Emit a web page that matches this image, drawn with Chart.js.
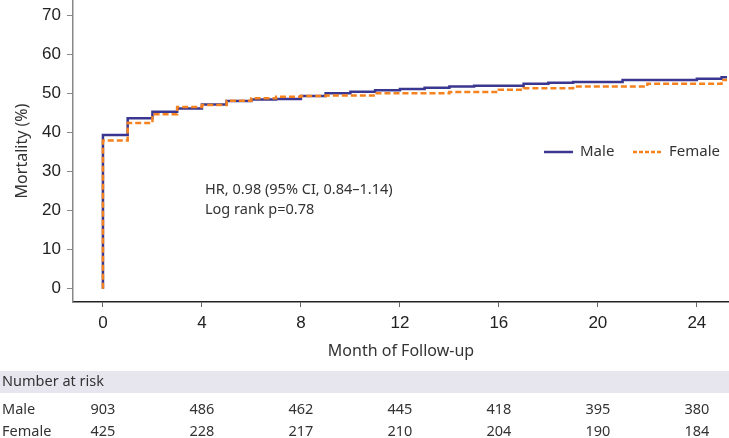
<!DOCTYPE html>
<html>
<head>
<meta charset="utf-8">
<script src="https://cdn.jsdelivr.net/npm/chart.js@4.4.0/dist/chart.umd.min.js"></script>
<style>
  html, body { margin: 0; padding: 0; background: #fff; }
  #wrap { width: 729px; height: 438px; position: relative; }
</style>
</head>
<body>
<div id="wrap"><canvas id="km"></canvas></div>
<script>
// step times (months); first point is the drop from 0, last is where the curves stop
const months = [0, 0, 1, 2, 3, 4, 5, 6, 7, 8, 9, 10, 11, 12, 13, 14, 15, 16, 17, 18, 19, 20, 21, 22, 23, 24, 25, 25.22];
const male = [0, 39.3, 43.6, 45.3, 46.1, 47.1, 48.0, 48.4, 48.5, 49.3, 50.0, 50.4, 50.8, 51.1, 51.4, 51.7, 51.9, 51.9, 52.4, 52.7, 52.9, 52.9, 53.4, 53.4, 53.4, 53.7, 54.1, 54.1];
const female = [0, 37.9, 42.4, 44.6, 46.5, 47.0, 48.1, 48.7, 49.1, 49.3, 49.4, 49.4, 50.0, 50.0, 50.0, 50.3, 50.3, 50.9, 51.3, 51.3, 51.7, 51.7, 51.7, 52.4, 52.4, 52.4, 53.4, 53.4];

const xTicks = [0, 4, 8, 12, 16, 20, 24];
const yTicks = [0, 10, 20, 30, 40, 50, 60, 70];

const riskMonths = [0, 4, 8, 12, 16, 20, 24];
const maleRisk = [903, 486, 462, 445, 418, 395, 380];
const femaleRisk = [425, 228, 217, 210, 204, 190, 184];

const MALE_COLOR = "#3b368f";
const FEMALE_COLOR = "#f5821f";
const TICK_FONT = { family: '"Liberation Sans", Arial, sans-serif', size: 17 };

const toPoints = (ys) => months.map((m, i) => ({ x: m, y: ys[i] }));

// titles, legend, HR text and the number-at-risk table
const extras = {
  id: "extras",
  afterDraw(chart) {
    const ctx = chart.ctx;
    const xs = chart.scales.x;
    ctx.save();

    // y title
    ctx.save();
    ctx.fillStyle = "#333";
    ctx.font = '16px "Noto Sans"';
    ctx.textAlign = "center";
    ctx.textBaseline = "middle";
    ctx.translate(22, 151);
    ctx.rotate(-Math.PI / 2);
    ctx.fillText("Mortality (%)", 0, 0);
    ctx.restore();

    // legend
    ctx.lineWidth = 2.5;
    ctx.strokeStyle = MALE_COLOR;
    ctx.beginPath();
    ctx.moveTo(544, 152);
    ctx.lineTo(573, 152);
    ctx.stroke();
    ctx.strokeStyle = FEMALE_COLOR;
    ctx.setLineDash([4, 2]);
    ctx.beginPath();
    ctx.moveTo(633, 152);
    ctx.lineTo(663, 152);
    ctx.stroke();
    ctx.setLineDash([]);

    ctx.fillStyle = "#333";
    ctx.font = '15px "Noto Sans"';
    ctx.textAlign = "left";
    ctx.textBaseline = "middle";
    ctx.fillText("Male", 580, 152);
    ctx.fillText("Female", 669, 152);

    // HR annotation
    ctx.font = '14.5px "Noto Sans"';
    ctx.fillText("HR, 0.98 (95% CI, 0.84\u20131.14)", 205, 190);
    ctx.fillText("Log rank p=0.78", 205, 210);

    // x title
    ctx.font = '16px "Noto Sans"';
    ctx.textAlign = "center";
    ctx.fillText("Month of Follow-up", 401, 351);

    // number at risk
    ctx.fillStyle = "#e7e6ef";
    ctx.fillRect(0, 371, chart.width, 22);
    ctx.fillStyle = "#333";
    ctx.textAlign = "left";
    ctx.font = '14.5px "Noto Sans"';
    ctx.fillText("Number at risk", 2, 382);
    ctx.fillText("Male", 2, 410);
    ctx.fillText("Female", 2, 432);
    ctx.textAlign = "center";
    riskMonths.forEach((m, i) => {
      const px = xs.getPixelForValue(m);
      ctx.fillText(String(maleRisk[i]), px, 410);
      ctx.fillText(String(femaleRisk[i]), px, 432);
    });

    ctx.restore();
  },
};

new Chart(document.getElementById("km"), {
  type: "line",
  data: {
    datasets: [
      {
        label: "Female",
        data: toPoints(female),
        borderColor: FEMALE_COLOR,
        borderWidth: 2.5,
        borderDash: [6, 3],
        stepped: true,
        pointRadius: 0,
        fill: false,
      },
      {
        label: "Male",
        data: toPoints(male),
        borderColor: MALE_COLOR,
        borderWidth: 2.5,
        stepped: true,
        pointRadius: 0,
        fill: false,
      },
    ],
  },
  options: {
    responsive: true,
    maintainAspectRatio: false,
    animation: false,
    layout: { padding: { top: 1, left: 0, right: 0, bottom: 0 } },
    plugins: {
      legend: { display: false },
      tooltip: { enabled: false },
    },
    scales: {
      x: {
        type: "linear",
        min: -1.21,
        max: 25.3,
        afterBuildTicks: (s) => { s.ticks = xTicks.map((v) => ({ value: v })); },
        afterFit: (s) => { s.height = 136; s.paddingLeft = 0; s.paddingRight = 0; },
        grid: { drawOnChartArea: false, tickLength: 5, color: "#666", lineWidth: 1 },
        border: { color: "#222", width: 1.5 },
        ticks: { color: "#222", font: TICK_FONT, padding: 6, maxRotation: 0 },
      },
      y: {
        min: -3.4,
        max: 73.6,
        afterBuildTicks: (s) => { s.ticks = yTicks.map((v) => ({ value: v })); },
        afterFit: (s) => { s.width = 73; s.paddingTop = 0; s.paddingBottom = 0; },
        grid: { drawOnChartArea: false, tickLength: 6, color: "#888", lineWidth: 1 },
        border: { color: "#888", width: 1.5 },
        ticks: { color: "#222", font: TICK_FONT, padding: 6 },
      },
    },
  },
  plugins: [extras],
});
</script>
</body>
</html>
